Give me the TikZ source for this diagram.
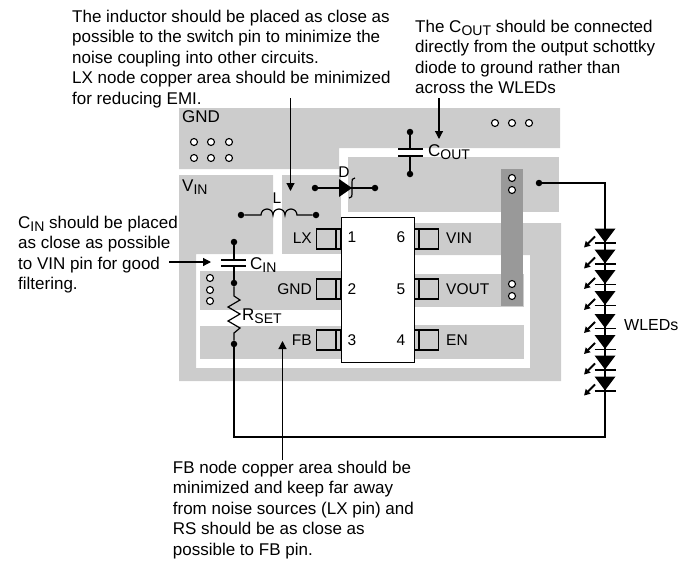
\documentclass[tikz,border=0pt]{standalone}
\usepackage{fontspec}
\setmainfont{Liberation Sans}
\usetikzlibrary{arrows.meta}
\definecolor{pad}{HTML}{CCCCCC}
\definecolor{bar}{HTML}{999999}
\tikzset{
  padfill/.style={fill=pad,draw=none},
  wire/.style={draw=black,line width=1.2pt},
  jdot/.style={circle,fill=black,inner sep=0pt,minimum size=6.5pt},
  via/.style={circle,draw=black,fill=white,line width=1.1pt,inner sep=0pt,minimum size=7pt},
  note/.style={anchor=north west,align=left,inner sep=0pt,font=\fontsize{17}{20.6}\selectfont},
  lbl/.style={inner sep=0pt,font=\fontsize{15.5}{18}\selectfont},
  biglbl/.style={inner sep=0pt,font=\fontsize{17}{20}\selectfont},
  callout/.style={draw=black,line width=1.2pt,-{Triangle[length=8pt,width=8pt]}},
  pinbox/.style={draw=black,line width=1.1pt,fill=pad},
  ledtri/.style={fill=black,draw=none},
  ledray/.style={draw=black,line width=2pt,-{Triangle[length=6pt,width=6.5pt]}}
}
\newcommand{\lowsub}[1]{\raisebox{-3.5pt}{\fontsize{14}{14}\selectfont #1}}
\begin{document}
\begin{tikzpicture}[x=1pt,y=-1pt]
\useasboundingbox (0,0) rectangle (695,560);
% copper
\fill[padfill] (179,108)--(560,108)--(560,148)--(339,148)--(339,169)--(179,169)--cycle;
\fill[padfill] (179,175)--(273,175)--(273,254)--(196,254)--(196,368)--(530,368)--(530,255)--(413,255)--(413,223)--(561,223)--(561,381)--(179,381)--cycle;
\fill[padfill] (282,175) rectangle (341,254);
\fill[padfill] (348,157) rectangle (559,212);
\fill[padfill] (200,271) rectangle (341,310);
\fill[padfill] (200,326) rectangle (341,359);
\fill[padfill] (413,274) rectangle (524,307);
\fill[padfill] (413,325) rectangle (524,359);
\fill[bar] (501,169) rectangle (523,306);
% chip
\node[draw=black,line width=1.1pt,fill=white,minimum width=73pt,minimum height=145pt,inner sep=0pt,anchor=north west] (chip) at (341,217) {};
% pins
\foreach \n/\y in {a/239,b/289,c/340}{
  \node[pinbox,minimum width=24pt,minimum height=20pt,inner sep=0pt,anchor=east] (l\n) at (341,\y) {};
  \draw[line width=1.1pt] (336,\y-10)--(336,\y+10);
}
\foreach \n/\y in {d/239,e/289,f/340}{
  \node[pinbox,minimum width=24pt,minimum height=20pt,inner sep=0pt,anchor=west] (r\n) at (414,\y) {};
  \draw[line width=1.1pt] (419,\y-10)--(419,\y+10);
}
% pin labels
\node[lbl,anchor=east] (tlx) at (312,238) {LX};
\node[lbl,anchor=east] (tgnd) at (312,289) {GND};
\node[lbl,anchor=east] (tfb) at (312,340) {FB};
\node[lbl,anchor=west] (tvin) at (446,238) {VIN};
\node[lbl,anchor=west] (tvout) at (446,289) {VOUT};
\node[lbl,anchor=west] (ten) at (446,340) {EN};
\node[lbl] (n1) at (352,237) {1};
\node[lbl] (n2) at (352,289) {2};
\node[lbl] (n3) at (352,340) {3};
\node[lbl] (n6) at (401,237) {6};
\node[lbl] (n5) at (401,289) {5};
\node[lbl] (n4) at (401,340) {4};
% region labels
\node[biglbl,anchor=west] (tg) at (182,117) {GND};
\node[biglbl,anchor=base west] (tv) at (182,191) {V\lowsub{IN}};
% vias
\foreach \x/\y [count=\i] in {194/142,211/142,229/142,194/158,211/158,229/158,495/123,512/123,529/123,512/178,512/190,512/284,512/296,210/278,210/290,210/301}
  \node[via] (v\i) at (\x,\y) {};
% inductor
\node[jdot] (la) at (241,215) {};
\node[jdot] (lb) at (316,215) {};
\coordinate (lc) at (261,215);
\coordinate (ld) at (297,215);
\draw[wire] (la)--(lc) arc[start angle=180,end angle=0,radius=6pt] arc[start angle=180,end angle=0,radius=6pt] arc[start angle=180,end angle=0,radius=6pt]--(lb);
\node[lbl] (tl) at (277,198) {L};
% diode
\node[jdot] (da) at (315,188) {};
\node[jdot] (db) at (375,188) {};
\draw[wire] (da)--(db);
\fill[ledtri] (339,179)--(352,188)--(339,197)--cycle;
\draw[wire] (355,178) .. controls (352,178) and (352,180) .. (352,182)--(352,194) .. controls (352,196) and (352,198) .. (349,198);
\node[lbl] (td) at (344,172) {D};
% COUT
\node[jdot] (ca) at (410,132) {};
\node[jdot] (cb) at (410,174) {};
\draw[wire] (ca)--(410,149) (cb)--(410,156);
\draw[wire] (398,149)--(423,149) (398,156)--(423,156);
\node[biglbl,anchor=base west] (tc) at (428,156) {C\lowsub{OUT}};
% CIN + R
\node[jdot] (ia) at (234,242) {};
\node[jdot] (ib) at (234,283) {};
\node[jdot] (ic) at (234,344) {};
\draw[wire] (ia)--(234,260) (ib)--(234,266);
\draw[wire] (221,260)--(246,260) (221,266)--(246,266);
\draw[wire] (ib)--(234,296)--(240,300)--(228,307)--(240,314)--(228,321)--(240,328)--(234,333)--(ic);
\node[biglbl,anchor=base west] (tci) at (250,269) {C\lowsub{IN}};
\node[biglbl,anchor=base west] (tr) at (242,320) {R\lowsub{SET}};
% output string
\node[jdot] (oa) at (539,183) {};
\coordinate (ob) at (605,183);
\coordinate (oc) at (605,437);
\coordinate (od) at (234,437);
\draw[wire] (oa)--(ob)--(oc)--(od)--(ic);
\foreach \t in {228.5,249.5,270,291,314,335,355.5,376.5}{
  \fill[ledtri] (594.5,\t)--(615.5,\t)--(605,\t+14)--cycle;
  \draw[wire] (594.5,\t+14.5)--(615.5,\t+14.5);
  \draw[ledray] (595,\t+8)--(584,\t+19);
}
\node[biglbl,anchor=west,font=\fontsize{16}{18}\selectfont] (tw) at (624,325) {WLEDs};
% notes
\node[note] (n-l) at (72,9.6) {The inductor should be placed as close as\\possible to the switch pin to minimize the\\noise coupling into other circuits.\\LX node copper area should be minimized\\for reducing EMI.};
\node[note] (n-c) at (415,19.6) {The C\lowsub{OUT} should be connected\\directly from the output schottky\\diode to ground rather than\\across the WLEDs};
\node[note] (n-i) at (18,215.6) {C\lowsub{IN} should be placed\\as close as possible\\to VIN pin for good\\filtering.};
\node[note] (n-f) at (172.7,460.6) {FB node copper area should be\\minimized and keep far away\\from noise sources (LX pin) and\\RS should be as close as\\possible to FB pin.};
% callouts
\coordinate (al) at (290.5,98);
\coordinate (alt) at (290.5,191);
\coordinate (ac) at (439,98);
\coordinate (act) at (439,139);
\coordinate (ai) at (169,262);
\coordinate (ait) at (211,262);
\coordinate (af) at (282.5,460);
\coordinate (aft) at (282.5,341);
\draw[callout] (al)--(alt);
\draw[callout] (ac)--(act);
\draw[callout] (ai)--(ait);
\draw[callout] (af)--(aft);
\end{tikzpicture}
\end{document}
